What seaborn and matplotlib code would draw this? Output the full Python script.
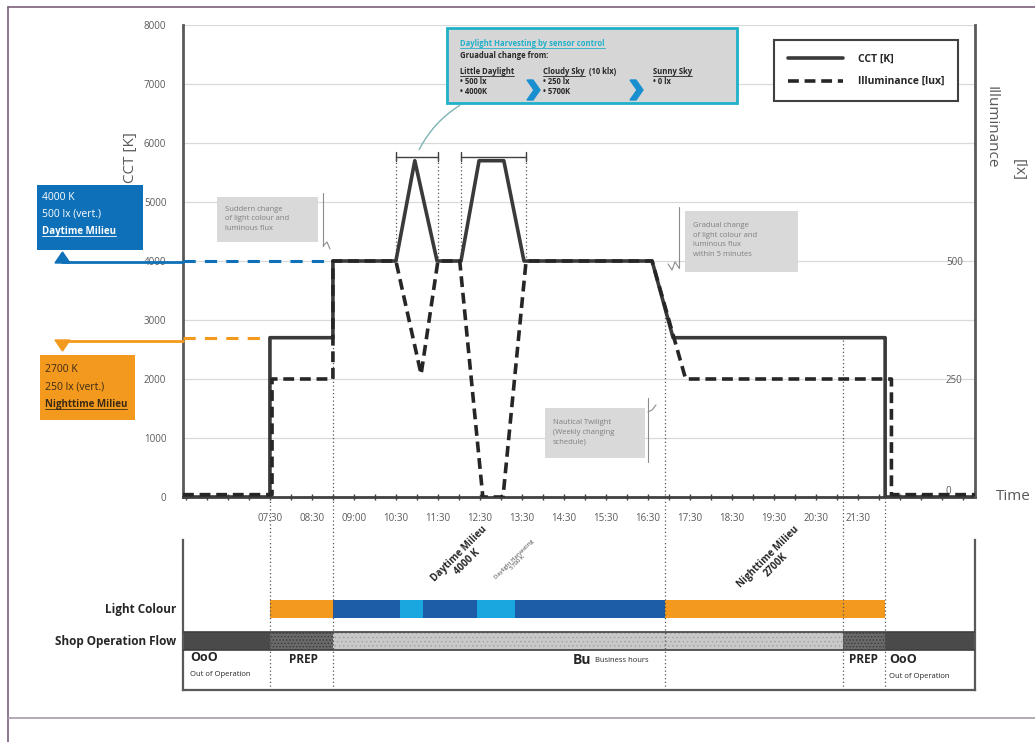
import matplotlib
matplotlib.use('Agg')
import matplotlib.pyplot as plt
import matplotlib.patches as mpatches
from matplotlib.lines import Line2D
import numpy as np
import seaborn as sns

# ---- data (time in hours) ----
cct_time = [5.43, 7.5, 7.5, 9.0, 9.0, 10.5, 10.95, 11.48, 12.05, 12.48, 13.07, 13.55, 16.6, 17.1, 22.15, 22.15, 24.29]
cct_k = [0, 0, 2700, 2700, 4000, 4000, 5700, 4000, 4000, 5700, 5700, 4000, 4000, 2700, 2700, 0, 0]

illum_time = [5.43, 7.55, 7.55, 9.0, 9.0, 10.5, 11.1, 11.5, 12.02, 12.57, 13.05, 13.6, 16.6, 17.4, 22.3, 22.3, 24.29]
illum_lux = [5, 5, 250, 250, 500, 500, 260, 500, 500, 0, 0, 500, 500, 250, 250, 5, 5]

tick_hours = [7.5, 8.5, 9.5, 10.5, 11.5, 12.5, 13.5, 14.5, 15.5, 16.5, 17.5, 18.5, 19.5, 20.5, 21.5]
tick_labels = ['07:30', '08:30', '09:00', '10:30', '11:30', '12:30', '13:30', '14:30',
               '15:30', '16:30', '17:30', '18:30', '19:30', '20:30', '21:30']
cct_ticks = [0, 1000, 2000, 3000, 4000, 5000, 6000, 7000, 8000]
lux_ticks = [0, 250, 500]

phase_bounds = [7.5, 9.0, 16.9, 21.15, 22.15]
harvest_spans = [(10.5, 11.5), (12.05, 13.6)]
day_cct, night_cct = 4000, 2700
day_end, night_end = 9.0, 7.5

light_start = [7.5, 9.0, 10.6, 12.43, 16.9]
light_end = [9.0, 16.9, 11.14, 13.33, 22.15]
light_kind = ['night', 'day', 'harvest', 'harvest', 'night']

shop_start = [5.43, 7.5, 9.0, 21.15, 22.15]
shop_end = [7.5, 9.0, 21.15, 22.15, 24.29]
shop_kind = ['OoO', 'PREP', 'Bu', 'PREP', 'OoO']

# ---- styling ----
W, H = 1035, 742
BLUE = '#0e70b8'
ORANGE = '#f39a1e'
DARKBLUE = '#1d5ca6'
LIGHTBLUE = '#1aa7e0'
CYAN = '#1fb1c9'
GREY_TXT = '#595959'
light_colors = {'night': ORANGE, 'day': DARKBLUE, 'harvest': LIGHTBLUE}
shop_style = {'OoO': ('#4a4a4a', None, '#4a4a4a'),
              'PREP': ('#6a6a6a', '.....', '#3a3a3a'),
              'Bu': ('#c9c9c9', '....', '#a5a5a5')}

sns.set_theme(style='white')
plt.rcParams['font.family'] = ['Open Sans', 'DejaVu Sans']
plt.rcParams['hatch.linewidth'] = 0.6


def fx(x):
    return x / W


def fy(y):
    return 1 - y / H


fig = plt.figure(figsize=(W / 100, H / 100), dpi=100)
ax = fig.add_axes([fx(183), fy(497), fx(975 - 183), (497 - 25) / H])
axb = fig.add_axes([fx(183), fy(690), fx(975 - 183), (690 - 540) / H])
ax2 = ax.twinx()

# main lines
sns.lineplot(x=cct_time, y=cct_k, ax=ax, estimator=None, sort=False,
             color='#3a3a3a', lw=2.6, zorder=5)
cct_line = ax.lines[-1]
sns.lineplot(x=illum_time, y=illum_lux, ax=ax2, estimator=None, sort=False,
             color='#262626', lw=2.6, zorder=6)
lux_line = ax2.lines[-1]
lux_line.set_linestyle((0, (3, 1.6)))

ax.set_xlim(cct_time[0], cct_time[-1])
ax.set_ylim(0, 8000)
ax2.set_ylim(0, 1000)
ax.set_xlabel('')
ax.set_ylabel('')

# milieu reference lines
ax.plot([cct_time[0], day_end], [day_cct, day_cct], color=BLUE, lw=2.2,
        ls=(0, (4, 3)), zorder=4)
ax.plot([cct_time[0], night_end], [night_cct, night_cct], color=ORANGE, lw=2.2,
        ls=(0, (4, 3)), zorder=4)

# phase boundaries (dotted), running down into the lower panel
for t in phase_bounds:
    top = np.interp(t + 0.001, cct_time, cct_k) / 8000
    ax.axvline(t, ymin=-0.092, ymax=top, color='#555555', lw=0.9, ls=(0, (1, 2)),
               clip_on=False, zorder=3)
    axb.axvline(t, color='#555555', lw=0.9, ls=(0, (1, 2)), zorder=4)

# harvesting brackets
for a, b in harvest_spans:
    ax.plot([a, b], [5770, 5770], color='#404040', lw=1)
    for t in (a, b):
        ax.plot([t, t], [5700, 5840], color='#404040', lw=1)
        ax.plot([t, t], [4000, 5770], color='#555555', lw=0.9, ls=(0, (1, 2)))

# axes styling
ax.set_yticks(cct_ticks)
ax.yaxis.grid(True, color='#d9d9d9', lw=0.9)
ax.xaxis.grid(False)
ax.set_axisbelow(True)
ax.tick_params(axis='y', length=0, pad=12, labelsize=7, labelcolor=GREY_TXT)
half_hours = np.arange(5.5, 24.01, 0.5)
lab_map = dict(zip(tick_hours, tick_labels))
ax.set_xticks(half_hours)
ax.set_xticklabels([lab_map.get(h, '') for h in half_hours])
ax.tick_params(axis='x', direction='inout', length=5, width=1, color='#404040',
               labelsize=7, labelcolor=GREY_TXT, pad=9, bottom=True)
for s in ('top', 'right'):
    ax.spines[s].set_visible(False)
ax.spines['left'].set_color('#595959')
ax.spines['left'].set_linewidth(2)
ax.spines['bottom'].set_color('#404040')
ax.spines['bottom'].set_linewidth(2)

ax2.set_yticks(lux_ticks)
ax2.tick_params(axis='y', length=0, pad=-21, labelsize=7, labelcolor=GREY_TXT)
ax2.get_yticklabels()[0].set_verticalalignment('bottom')
ax2.grid(False)
for s in ('top', 'left', 'bottom'):
    ax2.spines[s].set_visible(False)
ax2.spines['right'].set_color('#595959')
ax2.spines['right'].set_linewidth(2)
ax2.set_ylabel('')

ax.set_ylabel('CCT [K]', fontsize=11, color=GREY_TXT)
ax.yaxis.set_label_coords(-0.057, 0.72)

# ---- lower panel ----
axb.set_xlim(cct_time[0], cct_time[-1])
axb.set_ylim(0, 1)
axb.set_xticks([])
axb.set_yticks([])
axb.spines['top'].set_visible(False)
for s in ('left', 'right', 'bottom'):
    axb.spines[s].set_color('#595959')
    axb.spines[s].set_linewidth(1.6)

for a, b, k in zip(light_start, light_end, light_kind):
    axb.broken_barh([(a, b - a)], (0.48, 0.12), facecolors=light_colors[k],
                    edgecolor='none', zorder=2)
for a, b, k in zip(shop_start, shop_end, shop_kind):
    fc, hatch, ec = shop_style[k]
    axb.broken_barh([(a, b - a)], (0.267, 0.12), facecolors=fc, hatch=hatch,
                    edgecolor=ec, lw=0, zorder=2)
axb.plot([cct_time[0], cct_time[-1]], [0.387, 0.387], color='#404040', lw=1.2, zorder=3)
axb.plot([cct_time[0], cct_time[-1]], [0.267, 0.267], color='#404040', lw=1.2, zorder=3)

xt = axb.get_xaxis_transform()
axb.text(5.6, 0.215, 'OoO', transform=xt, fontsize=9, fontweight='bold', color='#262626', va='center')
axb.text(5.6, 0.1, 'Out of Operation', transform=xt, fontsize=5.5, color='#262626', va='center')
axb.text(7.95, 0.205, 'PREP', transform=xt, fontsize=8.5, fontweight='bold', color='#262626', va='center')
axb.text(14.7, 0.2, 'Bu', transform=xt, fontsize=10, fontweight='bold', color='#262626', va='center')
axb.text(15.25, 0.195, 'Business hours', transform=xt, fontsize=5.5, color='#262626', va='center')
axb.text(21.28, 0.205, 'PREP', transform=xt, fontsize=8.5, fontweight='bold', color='#262626', va='center')
axb.text(22.25, 0.205, 'OoO', transform=xt, fontsize=9, fontweight='bold', color='#262626', va='center')
axb.text(22.25, 0.093, 'Out of Operation', transform=xt, fontsize=5.5, color='#262626', va='center')

axb.text(12.1, 0.88, 'Daytime Milieu\n4000 K', transform=xt, rotation=45, fontsize=7,
         fontweight='bold', color='#262626', ha='center', va='center', rotation_mode='anchor',
         linespacing=1.0)
axb.text(13.36, 0.86, 'Daylight Harvesting\n5700 K', transform=xt, rotation=45, fontsize=4.2,
         color='#404040', ha='center', va='center', rotation_mode='anchor', linespacing=1.0)
axb.text(19.45, 0.86, 'Nighttime Milieu\n2700K', transform=xt, rotation=45, fontsize=7,
         fontweight='bold', color='#262626', ha='center', va='center', rotation_mode='anchor',
         linespacing=1.0)

fig.text(fx(176), fy(609), 'Light Colour', ha='right', va='center', fontsize=8.5,
         fontweight='bold', color='#262626')
fig.text(fx(176), fy(641), 'Shop Operation Flow', ha='right', va='center', fontsize=8.5,
         fontweight='bold', color='#262626')

# ---- figure level annotations ----
underlined = []


def ftext(x, y, s, underline=False, **kw):
    t = fig.text(fx(x), fy(y), s, va='center', **kw)
    if underline:
        underlined.append((t, kw.get('color', 'k')))
    return t


def fbox(x0, y0, x1, y1, **kw):
    p = mpatches.Rectangle((fx(x0), fy(y1)), fx(x1 - x0), (y1 - y0) / H,
                           transform=fig.transFigure, **kw)
    fig.patches.append(p)
    return p


def fline(xs, ys, **kw):
    fig.lines.append(Line2D([fx(x) for x in xs], [fy(y) for y in ys],
                            transform=fig.transFigure, **kw))


# page frame
fline([8, 8], [7, 742], color='#7d5f7d', lw=1.2)
fline([8, 1035], [7, 7], color='#7d5f7d', lw=1.2)
fline([8, 1035], [718, 718], color='#a89aa8', lw=1.2)

# daytime milieu box
fbox(37, 185, 143, 250, facecolor=BLUE, edgecolor='none')
ftext(42, 197, '4000 K', color='white', fontsize=7.5)
ftext(42, 214, '500 lx (vert.)', color='white', fontsize=7.5)
ftext(42, 231, 'Daytime Milieu', color='white', fontsize=7, fontweight='bold', underline=True)
fig.patches.append(mpatches.Polygon([(fx(55), fy(263)), (fx(70), fy(263)), (fx(62.5), fy(252))],
                                    closed=True, transform=fig.transFigure, color=BLUE))
fline([62, 183], [262, 262], color=BLUE, lw=2)

# nighttime milieu box
fbox(40, 355, 135, 420, facecolor=ORANGE, edgecolor='none')
ftext(45, 369, '2700 K', color='#3b2914', fontsize=7.5)
ftext(45, 387, '250 lx (vert.)', color='#3b2914', fontsize=7.5)
ftext(45, 404, 'Nighttime Milieu', color='#3b2914', fontsize=7, fontweight='bold', underline=True)
fig.patches.append(mpatches.Polygon([(fx(55), fy(340)), (fx(70), fy(340)), (fx(62.5), fy(351))],
                                    closed=True, transform=fig.transFigure, color=ORANGE))
fline([62, 183], [341, 341], color=ORANGE, lw=2)

# daylight harvesting info box
fbox(447, 28, 737, 103, facecolor='#d6d6d6', edgecolor=CYAN, lw=2, zorder=10)
ftext(460, 44, 'Daylight Harvesting by sensor control', color=CYAN, fontsize=5.5,
      fontweight='bold', underline=True, zorder=11)
ftext(460, 55, 'Gruadual change from:', color='#262626', fontsize=5.5, fontweight='bold', zorder=11)
ftext(460, 72, 'Little Daylight', color='#262626', fontsize=5.5, fontweight='bold', underline=True, zorder=11)
ftext(460, 82, '• 500 lx', color='#262626', fontsize=5.5, fontweight='bold', zorder=11)
ftext(460, 92, '• 4000K', color='#262626', fontsize=5.5, fontweight='bold', zorder=11)
ftext(543, 72, 'Cloudy Sky', color='#262626', fontsize=5.5, fontweight='bold', underline=True, zorder=11)
ftext(589, 72, '(10 klx)', color='#262626', fontsize=5.5, fontweight='bold', zorder=11)
ftext(543, 82, '• 250 lx', color='#262626', fontsize=5.5, fontweight='bold', zorder=11)
ftext(543, 92, '• 5700K', color='#262626', fontsize=5.5, fontweight='bold', zorder=11)
ftext(653, 72, 'Sunny Sky', color='#262626', fontsize=5.5, fontweight='bold', underline=True, zorder=11)
ftext(653, 82, '• 0 lx', color='#262626', fontsize=5.5, fontweight='bold', zorder=11)
for cx in (527, 630):
    fig.patches.append(mpatches.Polygon(
        [(fx(cx), fy(80)), (fx(cx + 6), fy(80)), (fx(cx + 13), fy(90)),
         (fx(cx + 6), fy(100)), (fx(cx), fy(100)), (fx(cx + 7), fy(90))],
        closed=True, transform=fig.transFigure, color='#1a8fd0', zorder=11))
fig.patches.append(mpatches.FancyArrowPatch((fx(462), fy(104)), (fx(418), fy(152)),
                                            connectionstyle='arc3,rad=0.15', arrowstyle='-',
                                            transform=fig.transFigure, color='#7fb3b3', lw=1))

# legend
leg = fig.legend([cct_line, lux_line], ['CCT [K]', 'Illuminance [lux]'], loc='upper right',
                 bbox_to_anchor=(fx(963), fy(35)), bbox_transform=fig.transFigure,
                 frameon=True, fancybox=False, handlelength=5.3, handletextpad=1.4,
                 borderpad=1.3, labelspacing=1.1, prop={'weight': 'bold', 'size': 7.5})
leg.get_frame().set_edgecolor('#404040')
leg.get_frame().set_linewidth(1.5)
leg.get_frame().set_alpha(1)

# grey callouts
fbox(217, 197, 318, 242, facecolor='#d9d9d9', edgecolor='none')
ftext(225, 219, 'Suddern change\nof light colour and\nluminous flux', color='#7f7f7f',
      fontsize=5.5, linespacing=1.5)
fline([323, 323], [193, 246], color='#8c8c8c', lw=0.8)
fline([323, 327, 330], [246, 242, 249], color='#8c8c8c', lw=0.8)

fbox(685, 211, 798, 272, facecolor='#d9d9d9', edgecolor='none')
ftext(693, 240, 'Gradual change\nof light colour and\nluminous flux\nwithin 5 minutes', color='#7f7f7f',
      fontsize=5.5, linespacing=1.5)
fline([679, 679], [207, 268], color='#8c8c8c', lw=0.8)
fline([679, 675, 672, 668], [268, 262, 270, 264], color='#8c8c8c', lw=0.8)

fbox(545, 408, 645, 458, facecolor='#d9d9d9', edgecolor='none')
ftext(553, 432, 'Nautical Twilight\n(Weekly changing\nschedule)', color='#7f7f7f',
      fontsize=5.5, linespacing=1.5)
fline([648, 648], [398, 462], color='#8c8c8c', lw=0.8)
fline([648, 652, 656], [412, 410, 405], color='#8c8c8c', lw=0.8)

# axis titles
ftext(1013, 497, 'Time', color=GREY_TXT, fontsize=11, ha='center')
ftext(991, 127, 'Illuminance', color=GREY_TXT, fontsize=11, ha='center', rotation=270)
ftext(1018, 170, '[lx]', color=GREY_TXT, fontsize=11, ha='center', rotation=270)

# underlines
fig.canvas.draw()
r = fig.canvas.get_renderer()
for t, c in underlined:
    bb = t.get_window_extent(renderer=r)
    fig.lines.append(Line2D([bb.x0 / W, bb.x1 / W], [(bb.y0 + 0.5) / H] * 2,
                            transform=fig.transFigure, color=c, lw=0.6, zorder=12))

fig.savefig('out.png', dpi=100)
